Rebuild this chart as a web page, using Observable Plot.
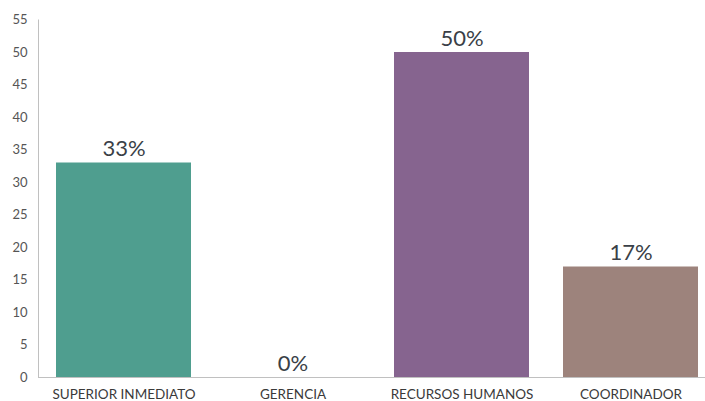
<!DOCTYPE html>
<html>
<head>
<meta charset="utf-8">
<script src="https://cdn.jsdelivr.net/npm/d3@7"></script>
<script src="https://cdn.jsdelivr.net/npm/@observablehq/plot@0.6"></script>
<style>
  body { margin: 0; background: #fff; }
  svg { overflow: visible; }
</style>
</head>
<body>
<div id="chart"></div>
<script>
const categories = ["SUPERIOR INMEDIATO", "GERENCIA", "RECURSOS HUMANOS", "COORDINADOR"];
const values = [33, 0, 50, 17];
const labels = ["33%", "0%", "50%", "17%"];
const colors = ["#4f9e8f", "#4f9e8f", "#86648f", "#9d837c"];
const yTicks = d3.range(0, 56, 5);

const data = categories.map((c, i) => ({category: c, value: values[i], label: labels[i], color: colors[i]}));

const chart = Plot.plot({
  width: 705,
  height: 401,
  marginLeft: 38,
  marginRight: 0,
  marginTop: 19.5,
  marginBottom: 24,
  style: {fontFamily: "Lato, sans-serif", background: "#fff", overflow: "visible"},
  x: {domain: categories, range: [38, 716], paddingInner: 0.2, paddingOuter: 0.1},
  y: {domain: [0, 55]},
  marks: [
    Plot.frame({anchor: "left", stroke: "#c0c0c0"}),
    Plot.barY(data, {x: "category", y: "value", fill: "color"}),
    Plot.ruleY([0], {stroke: "#c0c0c0"}),
    Plot.text(data, {x: "category", y: "value", text: "label", lineAnchor: "bottom", dy: -7, fontSize: 22, fontFamily: "Lato, sans-serif", fill: "#3a3f47"}),
    Plot.axisY({ticks: yTicks, tickSize: 0, tickPadding: 11, fontSize: 13, color: "#555", label: null}),
    Plot.axisX({tickSize: 0, tickPadding: 12, fontSize: 13.5, color: "#3a3a3a", label: null})
  ]
});
document.getElementById("chart").appendChild(chart);
</script>
</body>
</html>
